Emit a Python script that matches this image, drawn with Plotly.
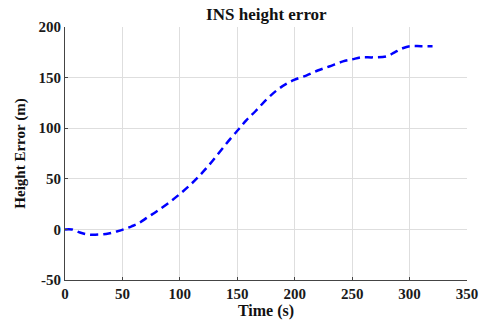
import plotly.graph_objects as go

time_s = [0, 6, 13, 20, 30, 38, 45, 51, 58, 64, 72, 80, 90, 100, 109, 117, 125, 135, 145, 152, 158, 166, 176, 185, 193, 200, 210, 220, 230, 242, 250, 258, 268, 280, 287, 294, 300, 310, 320]
height_err = [0, 0, -3, -5, -5, -4, -2, 0, 3, 6, 12, 18, 26, 35, 44, 53, 63, 77, 91, 100, 108, 117, 129, 138, 144, 148, 152, 157, 161, 166, 168, 170, 170, 171, 175, 179, 181, 181, 181]

font_family = "Liberation Serif, Times New Roman, serif"

fig = go.Figure()
fig.add_trace(go.Scatter(
    x=time_s, y=height_err, mode="lines",
    line=dict(color="#0000ff", width=2.5, dash="8px,5px", shape="spline"),
    showlegend=False,
))

fig.update_layout(
    width=480, height=322,
    margin=dict(l=65, r=13, t=27, b=42),
    paper_bgcolor="white", plot_bgcolor="white",
    font=dict(family=font_family, color="#111", size=15),
    title=dict(text="<b>INS height error</b>", x=0.555, xanchor="center", y=0.955, yanchor="middle",
               font=dict(family=font_family, size=17, color="#111")),
)
fig.update_xaxes(
    range=[0, 350], tickvals=[0, 50, 100, 150, 200, 250, 300, 350],
    ticktext=["<b>%d</b>" % v for v in [0, 50, 100, 150, 200, 250, 300, 350]],
    showgrid=True, gridcolor="#dedede", gridwidth=1, automargin=False,
    showline=True, linecolor="#444", linewidth=1, ticks="inside", ticklen=3, tickcolor="#444",
    zeroline=False, tickfont=dict(size=15, color="#1a1a1a"),
    title=dict(text="<b>Time (s)</b>", font=dict(size=16, color="#111"), standoff=1),
)
fig.update_yaxes(
    range=[-50, 200], tickvals=[-50, 0, 50, 100, 150, 200],
    ticktext=["<b>%d</b>" % v for v in [-50, 0, 50, 100, 150, 200]],
    showgrid=True, gridcolor="#dedede", gridwidth=1, automargin=False,
    showline=True, linecolor="#444", linewidth=1, ticks="inside", ticklen=3, tickcolor="#444",
    zeroline=False, tickfont=dict(size=15, color="#1a1a1a"),
    title=dict(text="<b>Height Error (m)</b>", font=dict(size=15, color="#111"), standoff=9),
)

fig.write_html("out.html")
